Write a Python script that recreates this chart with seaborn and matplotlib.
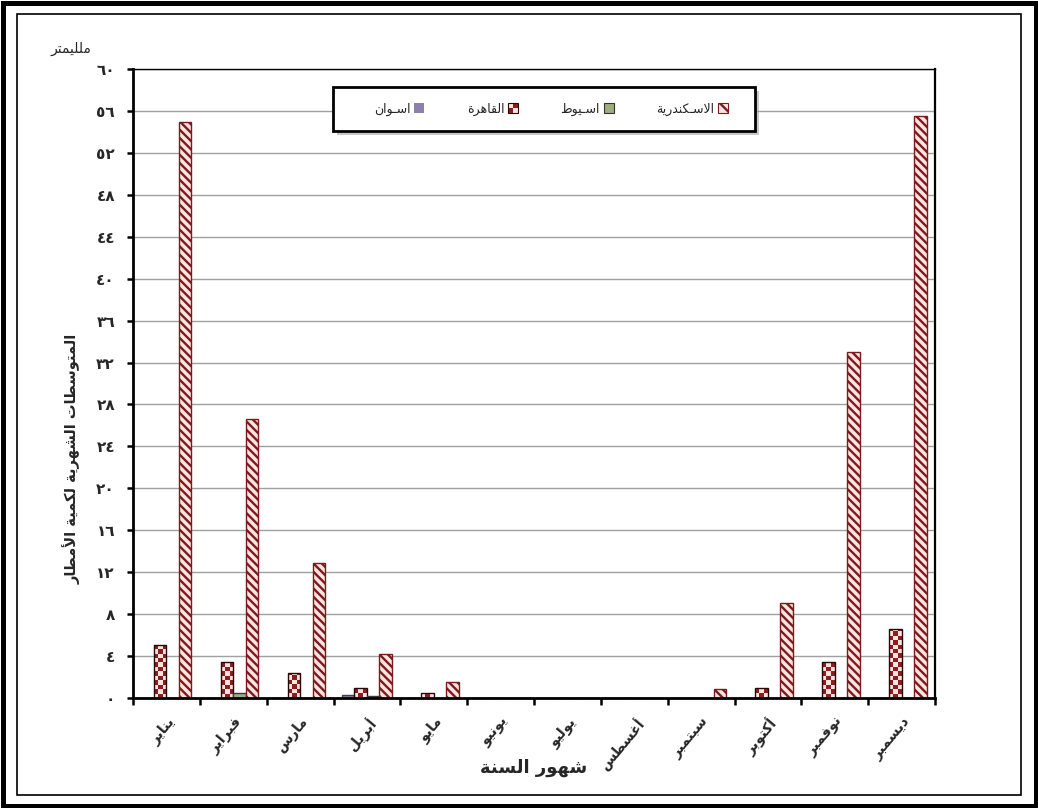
import numpy as np
import pandas as pd
import matplotlib
matplotlib.use("Agg")
import matplotlib.pyplot as plt
import matplotlib.transforms as mtransforms
from matplotlib.patches import Rectangle, Patch
from matplotlib.colors import ListedColormap
from matplotlib.legend_handler import HandlerBase
import seaborn as sns

# ---------------- data ----------------
months = ["يناير", "فبراير", "مارس", "أبريل", "مايو", "يونيو",
          "يوليو", "أغسطس", "سبتمبر", "أكتوبر", "نوفمبر", "ديسمبر"]
stations = ["اسـوان", "القاهرة", "اسـيوط", "الاسـكندرية"]
aswan = [0, 0, 0, 0.3, 0, 0, 0, 0, 0, 0, 0, 0]
cairo = [5.1, 3.4, 2.4, 1.0, 0.5, 0, 0, 0, 0, 1.0, 3.4, 6.6]
asyut = [0, 0.5, 0, 0.2, 0, 0, 0, 0, 0, 0, 0, 0]
alexandria = [54.9, 26.6, 12.9, 4.2, 1.5, 0, 0, 0, 0.9, 9.1, 33.0, 55.5]
y_ticks = list(range(0, 61, 4))
y_title = "المتوسطات الشهرية لكمية الأمطار"
x_title = "شهور السنة"
unit_label = "ملليمتر"

# ---------------- Arabic shaping (contextual forms + RTL order) ----------------
_AR_FORMS = {
    'آ': ('\uFE81', '\uFE82', None, None), 'أ': ('\uFE83', '\uFE84', None, None),
    'ؤ': ('\uFE85', '\uFE86', None, None), 'إ': ('\uFE87', '\uFE88', None, None),
    'ئ': ('\uFE89', '\uFE8A', '\uFE8B', '\uFE8C'), 'ا': ('\uFE8D', '\uFE8E', None, None),
    'ب': ('\uFE8F', '\uFE90', '\uFE91', '\uFE92'), 'ة': ('\uFE93', '\uFE94', None, None),
    'ت': ('\uFE95', '\uFE96', '\uFE97', '\uFE98'), 'ث': ('\uFE99', '\uFE9A', '\uFE9B', '\uFE9C'),
    'ج': ('\uFE9D', '\uFE9E', '\uFE9F', '\uFEA0'), 'ح': ('\uFEA1', '\uFEA2', '\uFEA3', '\uFEA4'),
    'خ': ('\uFEA5', '\uFEA6', '\uFEA7', '\uFEA8'), 'د': ('\uFEA9', '\uFEAA', None, None),
    'ذ': ('\uFEAB', '\uFEAC', None, None), 'ر': ('\uFEAD', '\uFEAE', None, None),
    'ز': ('\uFEAF', '\uFEB0', None, None), 'س': ('\uFEB1', '\uFEB2', '\uFEB3', '\uFEB4'),
    'ش': ('\uFEB5', '\uFEB6', '\uFEB7', '\uFEB8'), 'ص': ('\uFEB9', '\uFEBA', '\uFEBB', '\uFEBC'),
    'ض': ('\uFEBD', '\uFEBE', '\uFEBF', '\uFEC0'), 'ط': ('\uFEC1', '\uFEC2', '\uFEC3', '\uFEC4'),
    'ظ': ('\uFEC5', '\uFEC6', '\uFEC7', '\uFEC8'), 'ع': ('\uFEC9', '\uFECA', '\uFECB', '\uFECC'),
    'غ': ('\uFECD', '\uFECE', '\uFECF', '\uFED0'), 'ف': ('\uFED1', '\uFED2', '\uFED3', '\uFED4'),
    'ق': ('\uFED5', '\uFED6', '\uFED7', '\uFED8'), 'ك': ('\uFED9', '\uFEDA', '\uFEDB', '\uFEDC'),
    'ل': ('\uFEDD', '\uFEDE', '\uFEDF', '\uFEE0'), 'م': ('\uFEE1', '\uFEE2', '\uFEE3', '\uFEE4'),
    'ن': ('\uFEE5', '\uFEE6', '\uFEE7', '\uFEE8'), 'ه': ('\uFEE9', '\uFEEA', '\uFEEB', '\uFEEC'),
    'و': ('\uFEED', '\uFEEE', None, None), 'ى': ('\uFEEF', '\uFEF0', None, None),
    'ي': ('\uFEF1', '\uFEF2', '\uFEF3', '\uFEF4'), 'ـ': ('\u0640', '\u0640', '\u0640', '\u0640'),
}
_LAM_ALEF = {'ا': ('\uFEFB', '\uFEFC'), 'أ': ('\uFEF7', '\uFEF8'),
             'إ': ('\uFEF9', '\uFEFA'), 'آ': ('\uFEF5', '\uFEF6')}


def shape_ar(text):
    tokens, i = [], 0
    while i < len(text):
        c = text[i]
        if c == 'ل' and i + 1 < len(text) and text[i + 1] in _LAM_ALEF:
            tokens.append(('LA', text[i + 1]))
            i += 2
        else:
            tokens.append(('C', c))
            i += 1

    def dual(tok):
        return tok is not None and tok[0] == 'C' and tok[1] in _AR_FORMS and _AR_FORMS[tok[1]][2] is not None

    def joinable(tok):
        return tok is not None and (tok[0] == 'LA' or tok[1] in _AR_FORMS)

    out = []
    for k, (kind, c) in enumerate(tokens):
        prev = tokens[k - 1] if k > 0 else None
        nxt = tokens[k + 1] if k + 1 < len(tokens) else None
        cp = dual(prev)
        if kind == 'LA':
            out.append(_LAM_ALEF[c][1 if cp else 0])
            continue
        if c not in _AR_FORMS:
            out.append(c)
            continue
        f = _AR_FORMS[c]
        cn = f[2] is not None and joinable(nxt)
        if cp and cn:
            out.append(f[3])
        elif cp:
            out.append(f[1])
        elif cn:
            out.append(f[2])
        else:
            out.append(f[0])
    return ''.join(reversed(out))


def ar_digits(v):
    return str(v).translate(str.maketrans('0123456789', '٠١٢٣٤٥٦٧٨٩'))


# ---------------- style ----------------
sns.set_theme(style="white")
plt.rcParams['font.family'] = ['DejaVu Sans']
plt.rcParams['hatch.linewidth'] = 1.7

W, H = 1038, 808
fig = plt.figure(figsize=(W / 100, H / 100), dpi=100)
fig.patch.set_facecolor('white')
ax = fig.add_axes([133 / W, 1 - 698 / H, (935 - 133) / W, (698 - 69) / H])

C_ASWAN = '#8C80AC'
C_ASYUT = '#9DAF7C'
C_PINK = '#FFE2E2'
C_DARK = '#8E1E1E'
C_STRIPE = '#7A1C1C'
C_EDGE = '#2A0808'

df = pd.DataFrame({
    "month": months * 4,
    "station": np.repeat(stations, len(months)),
    "value": aswan + cairo + asyut + alexandria,
})

sns.barplot(data=df, x="month", y="value", hue="station", order=months,
            hue_order=stations, palette=[C_ASWAN, C_PINK, C_ASYUT, C_PINK],
            width=0.75, saturation=1, errorbar=None, legend=False,
            edgecolor=C_EDGE, linewidth=1.0, ax=ax, zorder=2)

# station-specific fills
bars_aswan, bars_cairo, bars_asyut, bars_alex = ax.containers
for b in bars_alex:
    b.set_hatch('\\\\\\\\')
    b.set_edgecolor(C_STRIPE)
    b.set_facecolor(C_PINK)
for b in bars_asyut:
    b.set_edgecolor('#3a3a3a')
for b in bars_aswan:
    b.set_edgecolor('#444444')

# checkerboard fill for Cairo, clipped to each bar
checker_cmap = ListedColormap([C_PINK, C_DARK])
cell = 0.42
for b in bars_cairo:
    h = b.get_height()
    b.set_facecolor('none')
    if h <= 0:
        continue
    x0, w = b.get_x(), b.get_width()
    nrows = int(np.ceil(h / cell))
    grid = (np.add.outer(np.arange(nrows), np.arange(3)) % 2)
    im = ax.imshow(grid, extent=(x0, x0 + w, 0, nrows * cell), origin='lower',
                   cmap=checker_cmap, interpolation='nearest', aspect='auto', zorder=1.9)
    im.set_clip_path(b)

ax.set_xlim(-0.5, len(months) - 0.5)
ax.set_ylim(0, 60)
ax.set_aspect('auto')

# axes, ticks and grid
ax.set_yticks(y_ticks)
ax.set_yticklabels([ar_digits(t) for t in y_ticks], fontsize=11, fontweight='bold')
ax.yaxis.grid(True, color='#a0a0a0', linewidth=1.0)
ax.set_axisbelow(True)
ax.set_xticks(range(len(months)))
ax.set_xticklabels([shape_ar(m) for m in months], rotation=50, ha='right', va='top',
                   rotation_mode='anchor', fontsize=10, fontweight='bold')
shift = mtransforms.ScaledTranslation(6 / 72, 0, fig.dpi_scale_trans)
for lbl in ax.get_xticklabels():
    lbl.set_transform(lbl.get_transform() + shift)
ax.set_xticks(np.arange(-0.5, len(months)), minor=True)
ax.tick_params(axis='x', which='major', length=0, pad=12)
ax.tick_params(axis='x', which='minor', length=5, width=1.8, color='black', direction='out', bottom=True)
ax.tick_params(axis='y', length=4, width=1.8, color='black', direction='out', left=True, pad=9)
ax.set_xlabel('')
ax.set_ylabel('')
for side in ('left', 'bottom'):
    ax.spines[side].set_linewidth(2.0)
    ax.spines[side].set_color('black')
ax.spines['right'].set_linewidth(1.6)
ax.spines['right'].set_color('black')
ax.spines['top'].set_linewidth(1.0)
ax.spines['top'].set_color('black')

# titles
fig.text(534 / W, 1 - 768 / H, shape_ar(x_title), ha='center', va='center',
         fontsize=13, fontweight='bold')
fig.text(72 / W, 1 - 459 / H, shape_ar(y_title), ha='center', va='center',
         rotation=90, fontsize=10.5, fontweight='bold')
fig.text(71 / W, 1 - 49 / H, shape_ar(unit_label), ha='center', va='center', fontsize=10)


# legend
class CheckerHandler(HandlerBase):
    def create_artists(self, legend, orig_handle, xdescent, ydescent, width, height, fontsize, trans):
        arts = []
        hw, hh = width / 2, height / 2
        for i in range(2):
            for j in range(2):
                col = C_DARK if (i + j) % 2 == 0 else C_PINK
                arts.append(Rectangle((-xdescent + i * hw, -ydescent + j * hh), hw, hh,
                                      facecolor=col, edgecolor='none', transform=trans))
        arts.append(Rectangle((-xdescent, -ydescent), width, height, facecolor='none',
                              edgecolor=C_EDGE, lw=0.8, transform=trans))
        return arts


h_aswan = Patch(facecolor=C_ASWAN, edgecolor='none')
h_cairo = Patch(facecolor=C_PINK, edgecolor=C_EDGE)
h_asyut = Patch(facecolor=C_ASYUT, edgecolor='#333333', linewidth=0.8)
h_alex = Patch(facecolor=C_PINK, edgecolor=C_STRIPE, hatch='\\\\', linewidth=0.8)
leg = fig.legend([h_aswan, h_cairo, h_asyut, h_alex], [shape_ar(s) for s in stations],
                 handler_map={h_cairo: CheckerHandler()},
                 loc='center', bbox_to_anchor=(551 / W, 1 - 109 / H),
                 ncol=4, markerfirst=False, frameon=False, fontsize=9,
                 handlelength=0.8, handleheight=0.8, handletextpad=0.3,
                 columnspacing=3.4, borderpad=0, borderaxespad=0)

# legend box with drop shadow
bx0, by0, bw, bh = 333, 87, 422, 44
fig.patches.append(Rectangle(((bx0 + 4) / W, 1 - (by0 + bh + 4) / H), bw / W, bh / H,
                             transform=fig.transFigure, facecolor='#9c9c9c', alpha=0.55,
                             edgecolor='none', zorder=3))
fig.patches.append(Rectangle((bx0 / W, 1 - (by0 + bh) / H), bw / W, bh / H,
                             transform=fig.transFigure, facecolor='white',
                             edgecolor='black', linewidth=2.0, zorder=4))

# double frame around the figure
fig.patches.append(Rectangle((2.5 / W, 2.5 / H), 1 - 5 / W, 1 - 5 / H, transform=fig.transFigure,
                             fill=False, edgecolor='black', linewidth=3.6, zorder=10))
fig.patches.append(Rectangle((17 / W, 13.5 / H), 1 - 34 / W, 1 - 27 / H, transform=fig.transFigure,
                             fill=False, edgecolor='black', linewidth=1.2, zorder=10))

fig.savefig('out.png', dpi=100, facecolor='white')
